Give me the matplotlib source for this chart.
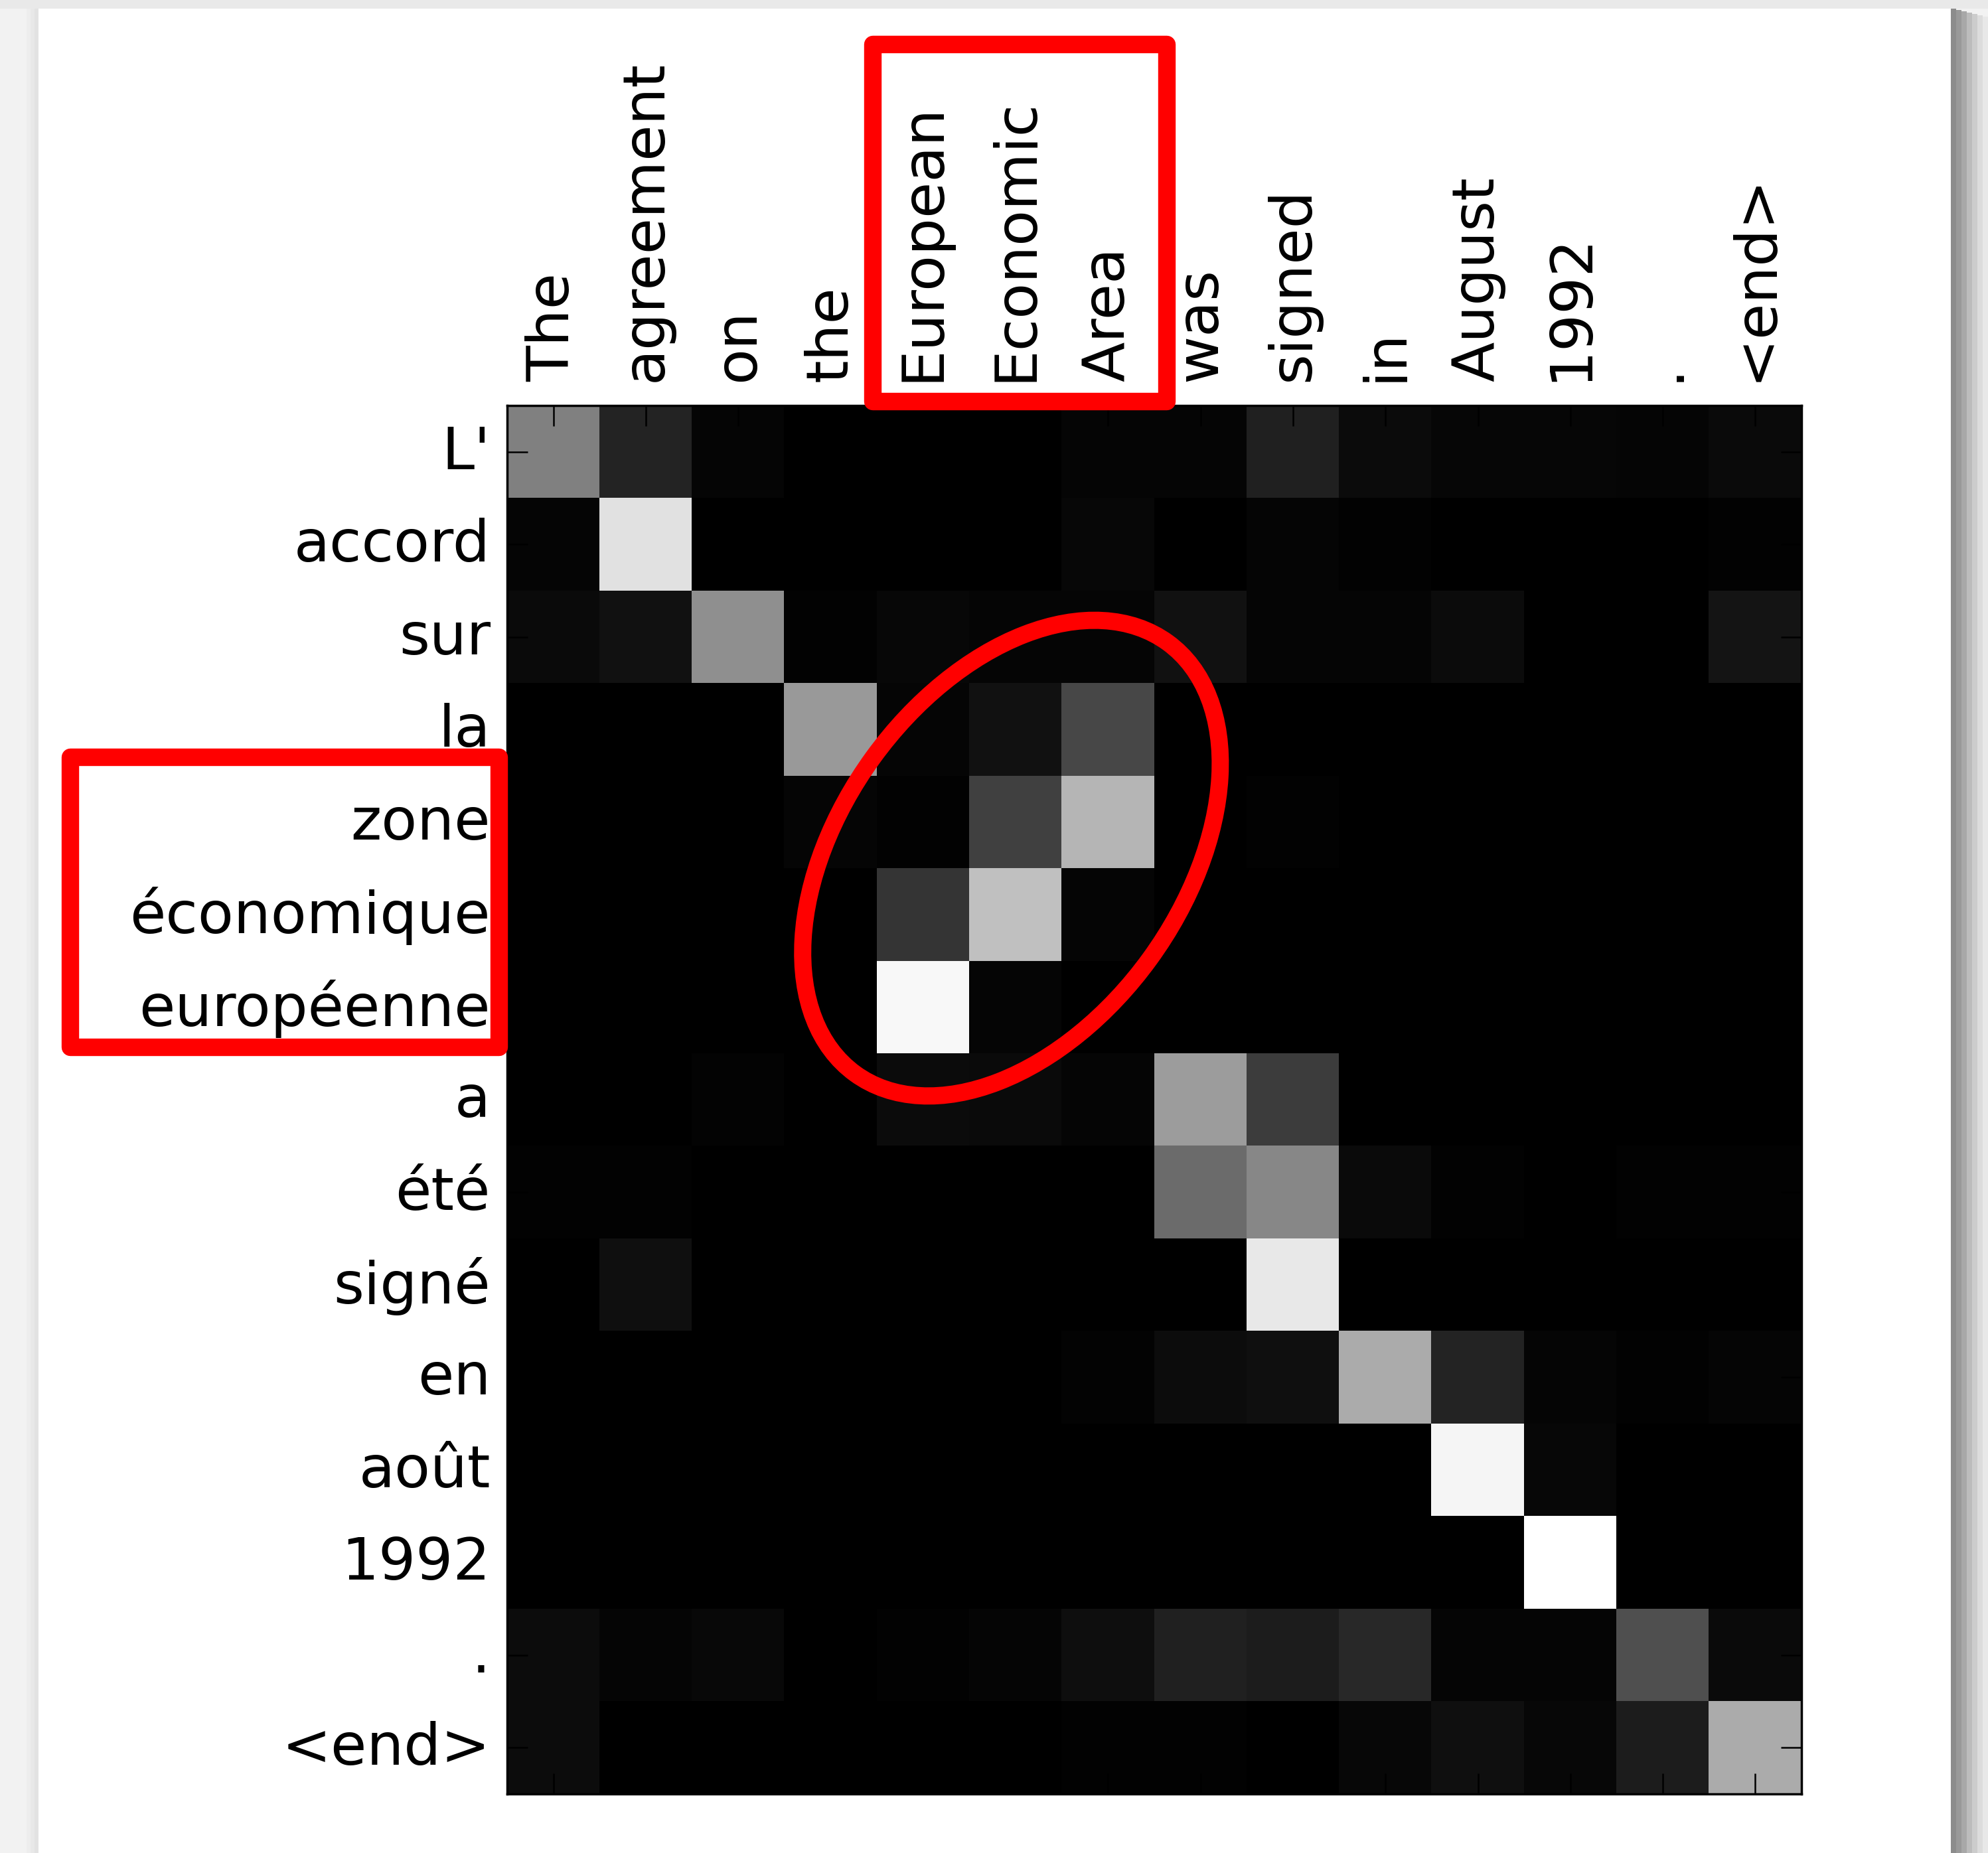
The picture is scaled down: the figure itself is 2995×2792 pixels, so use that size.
#!/usr/bin/env python3
"""
Attention alignment heatmap (English source vs French target) with
red highlight boxes around "European Economic Area" /
"zone économique européenne" and an ellipse around the inverted block.

Output: out.png
"""
import matplotlib
matplotlib.use("Agg")
import matplotlib.pyplot as plt
import matplotlib.transforms as mtransforms
import numpy as np
from matplotlib.patches import Rectangle, Ellipse

SOURCE = ["The", "agreement", "on", "the", "European", "Economic", "Area",
          "was", "signed", "in", "August", "1992", ".", "<end>"]
TARGET = ["L'", "accord", "sur", "la", "zone", "économique", "européenne",
          "a", "été", "signé", "en", "août", "1992", ".", "<end>"]

# attention weights, one row per French token
ROW_L = [0.50, 0.14, 0.02, 0.00, 0.00, 0.00, 0.02, 0.02, 0.13, 0.045, 0.025, 0.025, 0.02, 0.04]
ROW_ACCORD = [0.02, 0.88, 0.00, 0.00, 0.00, 0.00, 0.03, 0.00, 0.02, 0.01, 0.00, 0.00, 0.00, 0.01]
ROW_SUR = [0.04, 0.07, 0.56, 0.01, 0.03, 0.02, 0.02, 0.07, 0.02, 0.02, 0.045, 0.00, 0.00, 0.08]
ROW_LA = [0.00, 0.00, 0.00, 0.60, 0.02, 0.07, 0.28, 0.00, 0.00, 0.00, 0.00, 0.00, 0.00, 0.00]
ROW_ZONE = [0.00, 0.00, 0.00, 0.02, 0.01, 0.25, 0.71, 0.00, 0.01, 0.00, 0.00, 0.00, 0.00, 0.00]
ROW_ECONOMIQUE = [0.00, 0.00, 0.00, 0.00, 0.21, 0.75, 0.02, 0.00, 0.00, 0.00, 0.00, 0.00, 0.00, 0.00]
ROW_EUROPEENNE = [0.00, 0.00, 0.00, 0.00, 0.97, 0.02, 0.00, 0.00, 0.00, 0.00, 0.00, 0.00, 0.00, 0.00]
ROW_A = [0.00, 0.00, 0.015, 0.00, 0.045, 0.04, 0.02, 0.61, 0.235, 0.00, 0.00, 0.00, 0.00, 0.00]
ROW_ETE = [0.01, 0.01, 0.00, 0.00, 0.00, 0.00, 0.00, 0.42, 0.53, 0.04, 0.01, 0.00, 0.01, 0.01]
ROW_SIGNE = [0.00, 0.06, 0.00, 0.00, 0.00, 0.00, 0.00, 0.00, 0.91, 0.00, 0.00, 0.00, 0.00, 0.00]
ROW_EN = [0.00, 0.00, 0.00, 0.00, 0.00, 0.00, 0.015, 0.05, 0.06, 0.67, 0.14, 0.02, 0.01, 0.02]
ROW_AOUT = [0.00, 0.00, 0.00, 0.00, 0.00, 0.00, 0.00, 0.00, 0.00, 0.00, 0.96, 0.03, 0.00, 0.00]
ROW_1992 = [0.00, 0.00, 0.00, 0.00, 0.00, 0.00, 0.00, 0.00, 0.00, 0.00, 0.00, 1.00, 0.00, 0.00]
ROW_DOT = [0.05, 0.02, 0.035, 0.00, 0.01, 0.02, 0.055, 0.13, 0.11, 0.16, 0.02, 0.02, 0.31, 0.04]
ROW_END = [0.05, 0.00, 0.00, 0.00, 0.00, 0.00, 0.01, 0.01, 0.00, 0.03, 0.06, 0.03, 0.11, 0.67]

ATTN = np.array([ROW_L, ROW_ACCORD, ROW_SUR, ROW_LA, ROW_ZONE, ROW_ECONOMIQUE,
                 ROW_EUROPEENNE, ROW_A, ROW_ETE, ROW_SIGNE, ROW_EN, ROW_AOUT,
                 ROW_1992, ROW_DOT, ROW_END])

W, H = 2995, 2792
DPI = 100
RED = "#ff0000"
FONT_SIZE = 63.5


def fx(px):
    return px / W


def fy(py):
    # pixel row (from top) -> figure fraction (from bottom)
    return 1 - py / H


def _page(fig):
    """Grey page, white card with a drop shadow on the right."""
    # soft edge to the left of the card
    for i, c in enumerate(["#ededed", "#e8e8e8", "#e2e2e2"]):
        fig.add_artist(Rectangle((fx(40 + 6 * i), 0), fx(6), fy(13),
                                 transform=fig.transFigure, facecolor=c,
                                 edgecolor="none", zorder=-30))
    fig.add_artist(Rectangle((0, fy(13)), 1, 13 / H, transform=fig.transFigure,
                             facecolor="#e9e9e9", edgecolor="none", zorder=-25))
    # right drop shadow, dark next to the card fading outwards
    shadow = ["#8c8c8c", "#999999", "#a8a8a8", "#bcbcbc", "#cccccc",
              "#dcdcdc", "#e8e8e8"]
    for i, c in enumerate(shadow):
        fig.add_artist(Rectangle((fx(2939 + 8 * i), 0), fx(8), fy(13 + 2 * i),
                                 transform=fig.transFigure, facecolor=c,
                                 edgecolor="none", zorder=-22))
    fig.add_artist(Rectangle((fx(58), 0), fx(2939 - 58), fy(13),
                             transform=fig.transFigure, facecolor="white",
                             edgecolor="none", zorder=-10))


def main():
    fig = plt.figure(figsize=(W / DPI, H / DPI), dpi=DPI, facecolor="#f2f2f2")
    _page(fig)

    ax = fig.add_axes([fx(764), 1 - 2703 / H, fx(2714 - 764), (2703 - 611) / H])
    ax.imshow(ATTN, cmap="gray", vmin=0, vmax=1, interpolation="nearest",
              aspect="auto")

    ax.set_xticks(np.arange(len(SOURCE)))
    ax.set_xticklabels(SOURCE, rotation=90, fontsize=FONT_SIZE)
    ax.set_yticks(np.arange(len(TARGET)))
    ax.set_yticklabels(TARGET, fontsize=FONT_SIZE)
    ax.tick_params(axis="x", top=True, bottom=True, labeltop=True,
                   labelbottom=False, direction="in", length=22, width=1.8,
                   pad=26)
    ax.tick_params(axis="y", left=True, right=True, labelleft=True,
                   labelright=False, direction="in", length=22, width=1.8,
                   pad=18)
    # nudge the row labels up a touch
    lift = mtransforms.ScaledTranslation(0, 5 / 72, fig.dpi_scale_trans)
    for lab in ax.get_yticklabels():
        lab.set_transform(lab.get_transform() + lift)
    for sp in ax.spines.values():
        sp.set_linewidth(2.5)
        sp.set_color("black")

    # highlight around the circled phrase (source and target labels)
    fig.add_artist(Rectangle((fx(1315), fy(605)), fx(1758 - 1315),
                             (605 - 67) / H, transform=fig.transFigure,
                             fill=False, edgecolor=RED, linewidth=19,
                             joinstyle="round", zorder=5))
    fig.add_artist(Rectangle((fx(106), fy(1578)), fx(752 - 106),
                             (1578 - 1141) / H, transform=fig.transFigure,
                             fill=False, edgecolor=RED, linewidth=19,
                             joinstyle="round", zorder=5))

    # ellipse around the reordered block
    ax.add_patch(Ellipse((4.955, 4.39), 5.755, 3.70, angle=-54.0,
                         fill=False, edgecolor=RED, linewidth=18.7,
                         clip_on=False, zorder=5))

    fig.savefig("out.png", dpi=DPI, facecolor=fig.get_facecolor())
    plt.close(fig)


if __name__ == "__main__":
    main()
